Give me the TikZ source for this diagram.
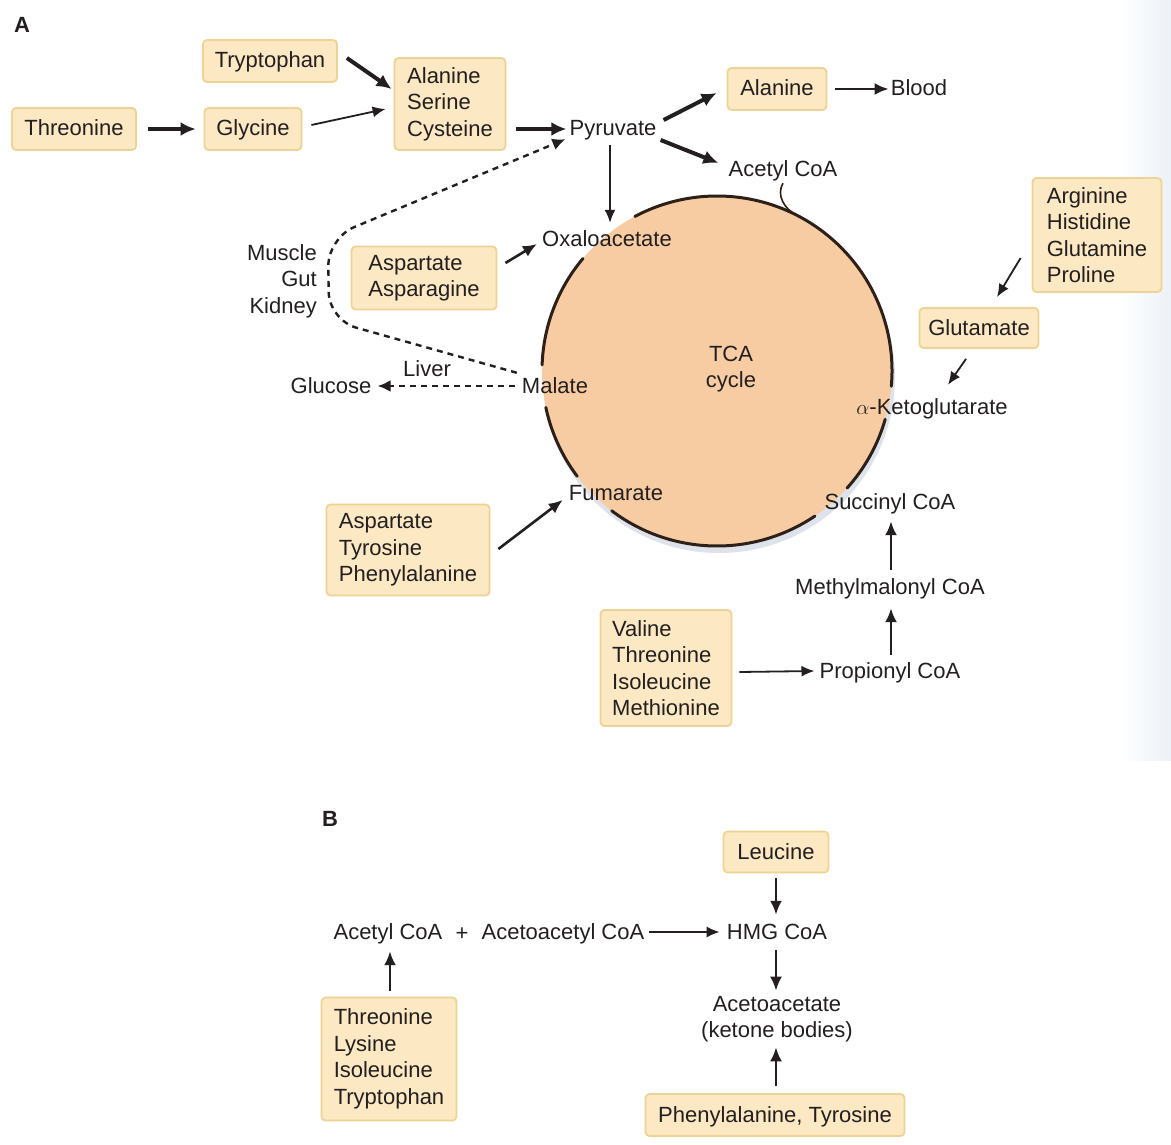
\documentclass[tikz,border=0pt]{standalone}
\usepackage{fontspec}
\setmainfont{Liberation Sans}
\usetikzlibrary{arrows.meta,calc}
\definecolor{boxfill}{RGB}{252,232,194}
\definecolor{boxline}{RGB}{238,211,150}
\definecolor{tcafill}{RGB}{248,204,162}
\definecolor{tcaline}{RGB}{45,32,25}
\definecolor{ink}{RGB}{35,31,32}
\definecolor{shadowc}{RGB}{222,227,235}
\definecolor{edgeblue}{RGB}{236,241,247}
\begin{document}
\begin{tikzpicture}[x=1pt,y=-1pt,
  font=\fontsize{22}{26.5}\selectfont,
  box/.style={draw=boxline, fill=boxfill, line width=1.8pt, rounded corners=4pt,
    align=left, inner sep=0pt, text=ink},
  sbox/.style={box, text height=17pt, text depth=3pt},
  lbl/.style={inner sep=1pt, text height=17pt, text depth=3pt, text=ink},
  mlbl/.style={inner sep=1pt, text=ink},
  panel/.style={font=\fontsize{22}{26}\selectfont\bfseries, text=ink},
  thk/.style={line width=4pt, draw=ink, -{Latex[length=15pt,width=14pt]}},
  med/.style={line width=2.6pt, draw=ink, -{Latex[length=14pt,width=12pt]}},
  thn/.style={line width=1.8pt, draw=ink, -{Latex[length=13pt,width=11pt]}},
  dsh/.style={line width=2.4pt, draw=ink, dash pattern=on 6pt off 5pt},
  tcaedge/.style={line width=3pt, draw=tcaline, line cap=round}]

\fill[white] (0,0) rectangle (1171,1145);
\shade[left color=white, right color=edgeblue] (1120,0) rectangle (1171,760);
\useasboundingbox (0,0) rectangle (1171,1145);

% ---------------- Panel A ----------------
\node[panel] (pa) at (22,25) {A};

\node[sbox, minimum width=134pt, minimum height=42pt] (trp) at (270,61) {Tryptophan};
\node[sbox, minimum width=124pt, minimum height=42pt] (thr) at (74,129) {Threonine};
\node[sbox, minimum width=97pt, minimum height=42pt] (gly) at (253,129) {Glycine};
\node[box, minimum width=111pt, minimum height=92pt] (asc) at (450,104) {Alanine\\Serine\\Cysteine};
\node[lbl] (pyr) at (613,129) {Pyruvate};
\node[sbox, minimum width=99pt, minimum height=42pt] (ala) at (777,89) {Alanine};
\node[lbl] (blood) at (919,89) {Blood};
\node[lbl] (acoa) at (783,170) {Acetyl CoA};

% TCA circle
\coordinate (tca) at (717,371);
\fill[shadowc] ($(tca)+(2,6)$) circle (176);
\fill[tcafill] (tca) circle (175);
\draw[tcaedge] ($(tca)+(-140:175)$) arc[start angle=-140, end angle=-178, radius=175];
\draw[tcaedge] ($(tca)+(-192:175)$) arc[start angle=-192, end angle=-217, radius=175];
\draw[tcaedge] ($(tca)+(-233:175)$) arc[start angle=-233, end angle=-304, radius=175];
\draw[tcaedge] ($(tca)+(-318:175)$) arc[start angle=-318, end angle=-344, radius=175];
\draw[tcaedge] ($(tca)+(-355:175)$) arc[start angle=-355, end angle=-478, radius=175];
\node[mlbl, align=center] (tcal) at (731,369) {TCA\\cycle};

\node[lbl] (oaa) at (607,239) {Oxaloacetate};
\node[lbl] (mal) at (555,386) {Malate};
\node[lbl] (glc) at (331,386) {Glucose};
\node[lbl] (liver) at (427,369) {Liver};
\node[mlbl, align=right, anchor=east] (mgk) at (318,281) {Muscle\\Gut\\Kidney};
\node[box, minimum width=145pt, minimum height=63pt] (asn) at (424,278) {Aspartate\\Asparagine};

\node[box, minimum width=129pt, minimum height=114pt] (ahgp) at (1097,235) {Arginine\\Histidine\\Glutamine\\Proline};
\node[sbox, minimum width=119pt, minimum height=40pt] (glu) at (979,328) {Glutamate};
\node[lbl] (akg) at (932,407) {$\alpha$-Ketoglutarate};
\node[lbl] (suc) at (890,502) {Succinyl CoA};
\node[lbl] (mmc) at (890,587) {Methylmalonyl CoA};
\node[lbl] (prop) at (890,671) {Propionyl CoA};
\node[box, minimum width=131pt, minimum height=116pt] (vtim) at (666,668) {Valine\\Threonine\\Isoleucine\\Methionine};
\node[lbl] (fum) at (616,493) {Fumarate};
\node[box, minimum width=163pt, minimum height=91pt] (atp) at (408,550) {Aspartate\\Tyrosine\\Phenylalanine};

% connectors A
\draw[thk] ($(trp.east)+(9,-3)$) -- ($(asc.west)+(-2,-15)$);
\draw[thk] ($(thr.east)+(11,0)$) -- ($(gly.west)+(-8,0)$);
\draw[thn] ($(gly.east)+(9,-4)$) -- ($(asc.west)+(-8,5)$);
\draw[thk] ($(asc.east)+(10,25)$) -- ($(pyr.west)+(-2,0)$);
\draw[thk] ($(pyr.east)+(6,-9)$) -- ($(ala.west)+(-10,4)$);
\draw[med] ($(ala.east)+(8,0)$) -- ($(blood.west)+(-1,0)$);
\draw[thk] ($(pyr.east)+(3,11)$) -- ($(acoa.west)+(-9,-7)$);
\draw[thn] ($(pyr.south)+(-3,5)$) -- ($(oaa.north)+(3,-5)$);
\draw[med] ($(asn.east)+(8,-15)$) -- ($(oaa.west)+(-4,5)$);
\coordinate (hk) at ($(tca)+(-63:175)$);
\draw[line width=1.6pt, draw=tcaline] ($(acoa.south)+(0,2)$) .. controls +(-7,12) and +(-12,-6) .. (hk);

% dashed Malate routes
\coordinate (bd1) at (329,320);
\coordinate (bd2) at (328,238);
\draw[dsh, -{Latex[length=13pt,width=12pt]}] ($(mal.west)+(-6,0)$) -- ($(glc.east)+(5,0)$);
\draw[dsh, rounded corners=28pt, -{Latex[length=13pt,width=12pt]}]
  ($(mal.north west)+(-4,-2)$) -- (bd1) -- (bd2) -- ($(pyr.south west)+(-3,-1)$);

\draw[thn] ($(ahgp.west)+(-11,23)$) -- ($(glu.north)+(18,-10)$);
\draw[thn] ($(glu.south)+(-13,10)$) -- ($(akg.north)+(16,-11)$);
\draw[med] ($(atp.east)+(8,-1)$) -- ($(fum.west)+(-5,7)$);
\draw[thn] ($(vtim.east)+(7,4)$) -- ($(prop.west)+(-4,0)$);
\draw[med] ($(prop.north)+(1,-5)$) -- ($(mmc.south)+(1,10)$);
\draw[med] ($(mmc.north)+(1,-6)$) -- ($(suc.south)+(1,8)$);

% ---------------- Panel B ----------------
\node[panel] (pb) at (330,819) {B};
\node[sbox, minimum width=105pt, minimum height=41pt] (leu) at (776,852) {Leucine};
\node[lbl] (acb) at (388,932) {Acetyl CoA};
\node[lbl] (plus) at (462,933) {+};
\node[lbl] (aca) at (563,932) {Acetoacetyl CoA};
\node[lbl] (hmg) at (777,932) {HMG CoA};
\node[mlbl, align=center] (acac) at (777,1019) {Acetoacetate\\(ketone bodies)};
\node[box, minimum width=135pt, minimum height=123pt] (tlit) at (389,1059) {Threonine\\Lysine\\Isoleucine\\Tryptophan};
\node[sbox, minimum width=259pt, minimum height=42pt] (pt) at (775,1115) {Phenylalanine, Tyrosine};

\draw[med] ($(leu.south)+(0,5)$) -- ($(hmg.north)+(-1,-6)$);
\draw[thn] ($(aca.east)+(3,0)$) -- ($(hmg.west)+(-6,0)$);
\draw[med] ($(hmg.south)+(-1,7)$) -- ($(acac.north)+(-1,-4)$);
\draw[med] ($(tlit.north)+(1,-6)$) -- ($(acb.south)+(2,8)$);
\draw[med] ($(pt.north)+(1,-7)$) -- ($(acac.south)+(-1,4)$);
\end{tikzpicture}
\end{document}
